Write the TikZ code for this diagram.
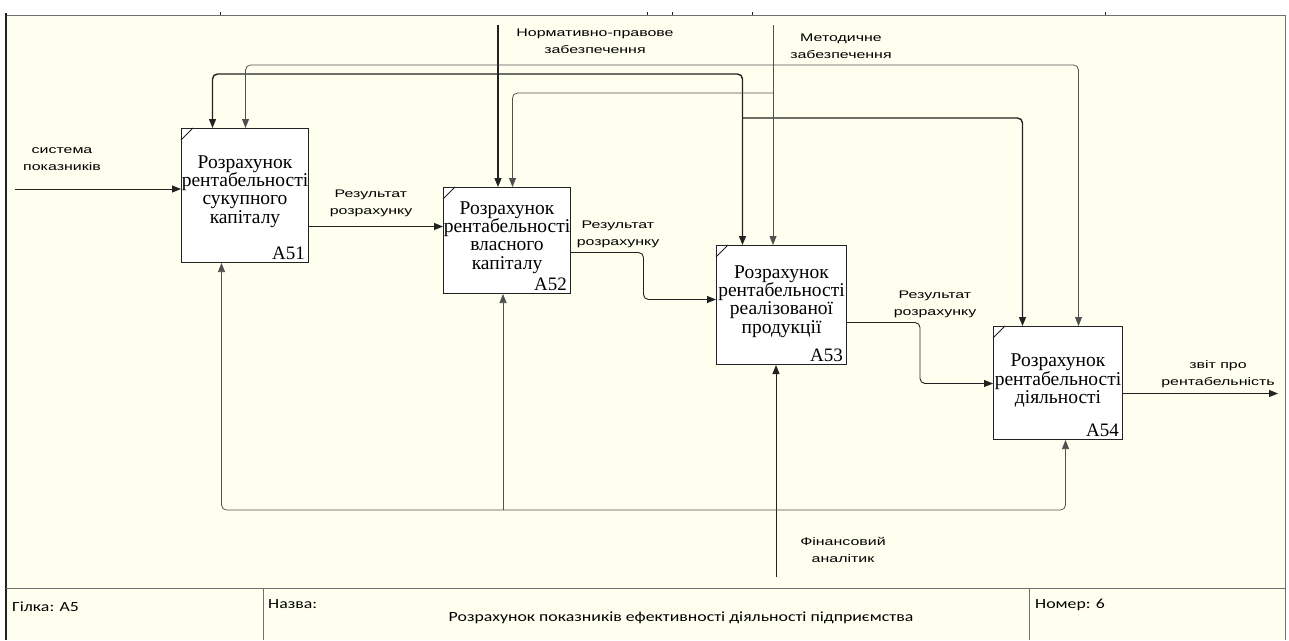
\documentclass[tikz,border=0pt]{standalone}
\usepackage{fontspec}
\setmainfont{Liberation Serif}
\newfontfamily\lblfont[FakeStretch=1.45]{Liberation Sans}
\newfontfamily\tblfont[FakeStretch=1.27]{Carlito}
\usetikzlibrary{arrows.meta,calc}
\definecolor{paper}{HTML}{FFFFF0}
\definecolor{ink}{HTML}{222222}
\definecolor{thinink}{HTML}{505050}
\definecolor{framec}{HTML}{707070}
\begin{document}
\begin{tikzpicture}[x=1pt,y=-1pt,
  box/.style={draw=ink,line width=1pt,fill=white,anchor=north west,inner sep=0pt},
  boxtext/.style={font=\fontsize{19.5}{18.4}\selectfont,align=center,inner sep=0pt},
  boxid/.style={font=\fontsize{19}{19}\selectfont,anchor=base east,inner sep=0pt},
  lbl/.style={font=\lblfont\fontsize{11}{17}\selectfont,align=center,inner sep=0pt},
  tbl/.style={font=\tblfont\fontsize{14}{16}\selectfont,inner sep=0pt},
  tip/.style={-{Triangle[length=9pt,width=7pt]}},
  heavy/.style={draw=ink,line width=1.4pt},
  light/.style={draw=thinink,line width=0.75pt},
  flow/.style={draw=ink,line width=0.9pt},
  rc/.style={rounded corners=5pt}
]
\useasboundingbox (0,0) rectangle (1289,640);
\fill[white] (0,0) rectangle (1289,640);
\fill[paper] (6,15) rectangle (1285,640);
% frame
\draw[framec,line width=0.9pt] (6,15) -- (1285,15) -- (1285,640);
\draw[ink,line width=2.5pt] (6,13) -- (6,640);
\foreach \tx in {220,647,672,752,1105} {\draw[ink,line width=0.8pt] (\tx,15) -- (\tx,12);}
\draw[framec,line width=0.9pt] (6,588) -- (1285,588);
\draw[framec,line width=0.9pt] (263,588) -- (263,640);
\draw[framec,line width=0.9pt] (1029,588) -- (1029,640);

% boxes
\node[box,minimum width=127,minimum height=134] (b1) at (181,128) {};
\node[box,minimum width=127,minimum height=106] (b2) at (443,187) {};
\node[box,minimum width=130,minimum height=119] (b3) at (716,245) {};
\node[box,minimum width=129,minimum height=113] (b4) at (993,326) {};

\node[boxtext] (t1) at ($(b1.center)+(0,-4)$) {Розрахунок\\рентабельності\\сукупного\\капіталу};
\node[boxtext] (t2) at ($(b2.center)+(0,-3)$) {Розрахунок\\рентабельності\\власного\\капіталу};
\node[boxtext] (t3) at ($(b3.center)+(0,-3.5)$) {Розрахунок\\рентабельності\\реалізованої\\продукції};
\node[boxtext] (t4) at ($(b4.center)+(0,-2.5)$) {Розрахунок\\рентабельності\\діяльності};

\node[boxid] (i1) at ($(b1.south east)+(-4,-4)$) {A51};
\node[boxid] (i2) at ($(b2.south east)+(-4,-4)$) {A52};
\node[boxid] (i3) at ($(b3.south east)+(-4,-4)$) {A53};
\node[boxid] (i4) at ($(b4.south east)+(-4,-4)$) {A54};

\foreach \b in {b1,b2,b3,b4} {\draw[ink,line width=0.8pt] ($(\b.north west)+(0,12)$) -- ($(\b.north west)+(12,0)$);}

% input
\coordinate (sIn) at (15,189);
\draw[flow,tip] (sIn) -- (sIn -| b1.west);
\node[lbl] (lIn) at (62,159) {система\\показників};

% outputs between boxes
\coordinate (o1) at ($(b1.east)+(0,31)$);
\draw[flow,tip] (o1) -- (o1 -| b2.west);
\node[lbl] (l1) at (371,203) {Результат\\розрахунку};

\coordinate (o2) at ($(b2.east)+(0,12)$);
\coordinate (n3) at ($(b3.west)+(0,-5.5)$);
\draw[flow,tip,rc] (o2) -| ($(o2)!0.5!(n3)$) |- (n3);
\node[lbl] (l2) at (618,234) {Результат\\розрахунку};

\coordinate (o3) at ($(b3.east)+(0,17.5)$);
\coordinate (n4) at ($(b4.west)+(0,0.5)$);
\draw[flow,tip,rc] (o3) -| ($(o3)!0.5!(n4)$) |- (n4);
\node[lbl] (l3) at (935,304) {Результат\\розрахунку};

\coordinate (o4) at ($(b4.east)+(0,10.5)$);
\coordinate (out) at ($(o4)+(155,0)$);
\draw[flow,tip] (o4) -- (out);
\node[lbl] (lOut) at (1218,374) {звіт про\\рентабельність};

% controls: normative
\coordinate (nTop) at (498,25);
\coordinate (nJ) at (498,74);
\draw[heavy,tip] (nTop) -- (nTop |- b2.north);
\draw[heavy,tip,rc] (nJ) -| ($(b1.north)+(-32.5,0)$);
\draw[heavy,tip,rc] (nJ) -| ($(b3.north)+(-39,0)$);
\coordinate (nJ2) at ($(b3.north)+(-39,-127)$);
\draw[heavy,tip,rc] (nJ2) -| ($(b4.north)+(-35.5,0)$);
\node[lbl] (lNorm) at (595,41) {Нормативно-правове\\забезпечення};

% controls: methodical
\coordinate (mTop) at (773,25);
\coordinate (mJ1) at (773,65);
\coordinate (mJ2) at (773,93);
\draw[light,tip] (mTop) -- (mTop |- b3.north);
\draw[light,tip,rc] (mJ1) -| ($(b1.north)+(0.5,0)$);
\draw[light,tip,rc] (mJ1) -| ($(b4.north)+(20.5,0)$);
\draw[light,tip,rc] (mJ2) -| ($(b2.north)+(5.5,0)$);
\node[lbl] (lMeth) at (841,46) {Методичне\\забезпечення};

% mechanism
\coordinate (fBot) at (776,577);
\coordinate (fJ) at (776,510);
\coordinate (fJ2) at (503,510);
\draw[flow,tip] (fBot) -- (fBot |- b3.south);
\draw[light,tip,rc] (fJ) -| ($(b1.south)+(-23.5,0)$);
\draw[light,tip,rc] (fJ) -| ($(b4.south)+(7.5,0)$);
\draw[light,tip] (fJ2) -- (fJ2 |- b2.south);
\node[lbl] (lFin) at (843,550) {Фінансовий\\аналітик};

% table
\node[tbl,anchor=west] (tb1) at (12,607) {Гілка: А5};
\node[tbl,anchor=west] (tb2) at (268,604) {Назва:};
\node[tbl] (tb3) at (681,618) {Розрахунок показників ефективності діяльності підприємства};
\node[tbl,anchor=west] (tb4) at (1035,605) {Номер: 6};
\end{tikzpicture}
\end{document}
